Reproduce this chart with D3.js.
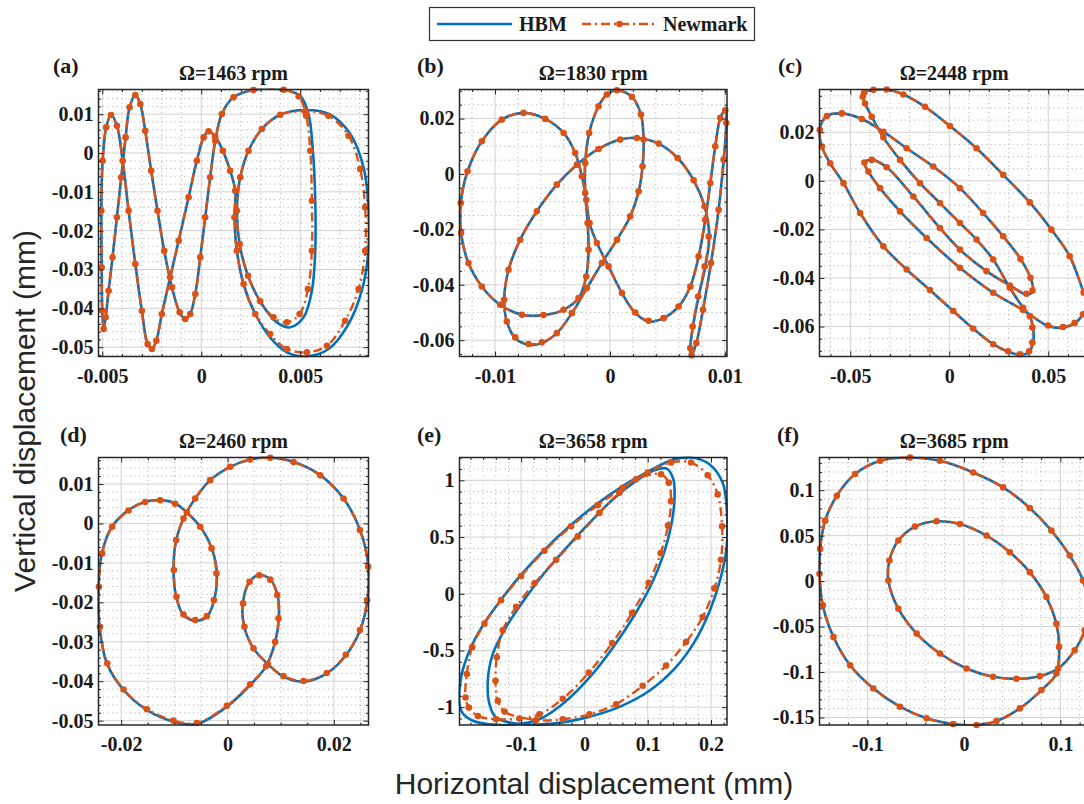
<!DOCTYPE html>
<html><head><meta charset="utf-8">
<script src="https://cdn.jsdelivr.net/npm/d3@7"></script>
<style>body{margin:0;background:#fff}svg{display:block}</style>
</head><body>
<svg id="chart" width="1084" height="804"></svg>
<script>
// ---------------- DATA ----------------
const legendLabels = ["HBM", "Newmark"];
const panelLabels = ["(a)", "(b)", "(c)", "(d)", "(e)", "(f)"];
const speeds = [1463, 1830, 2448, 2460, 3658, 3685];
const xAxisTitle = "Horizontal displacement (mm)";
const yAxisTitle = "Vertical displacement (mm)";

const xLimA = [-0.00519, 0.00845], yLimA = [-0.0524, 0.01636];
const xLimB = [-0.01309, 0.01019], yLimB = [-0.0659, 0.0305];
const xLimC = [-0.06555, 0.07059], yLimC = [-0.07234, 0.03761];
const xLimD = [-0.02427, 0.02652], yLimD = [-0.0511, 0.01672];
const xLimE = [-0.19737, 0.22526], yLimE = [-1.1568, 1.2012];
const xLimF = [-0.14966, 0.12966], yLimF = [-0.15826, 0.13596];

const xTicksA = [-0.005, 0, 0.005], yTicksA = [-0.05, -0.04, -0.03, -0.02, -0.01, 0, 0.01];
const xTicksB = [-0.01, 0, 0.01], yTicksB = [-0.06, -0.04, -0.02, 0, 0.02];
const xTicksC = [-0.05, 0, 0.05], yTicksC = [-0.06, -0.04, -0.02, 0, 0.02];
const xTicksD = [-0.02, 0, 0.02], yTicksD = [-0.05, -0.04, -0.03, -0.02, -0.01, 0, 0.01];
const xTicksE = [-0.1, 0, 0.1, 0.2], yTicksE = [-1, -0.5, 0, 0.5, 1];
const xTicksF = [-0.1, 0, 0.1], yTicksF = [-0.15, -0.1, -0.05, 0, 0.05, 0.1];
const minorStepsX = [0.001, 0.002, 0.01, 0.005, 0.02, 0.02];
const minorStepsY = [0.002, 0.005, 0.005, 0.002, 0.1, 0.01];

const hbmA = [[-0.00493,-0.04532],[-0.00483,-0.04232],[-0.00468,-0.03545],[-0.00448,-0.02687],[-0.00426,-0.01657],[-0.00404,-0.00627],[-0.00382,0.00403],[-0.00362,0.01176],[-0.00333,0.01494],[-0.00308,0.01262],[-0.00283,0.00575],[-0.00253,-0.00455],[-0.00221,-0.01485],[-0.00187,-0.02515],[-0.00148,-0.03459],[-0.00109,-0.04103],[-0.00081,-0.04275],[-0.00056,-0.04146],[-0.00030,-0.03631],[-0.00005,-0.02687],[0.00020,-0.01657],[0.00045,-0.00627],[0.00071,0.00318],[0.00104,0.01004],[0.00163,0.01434],[0.00264,0.01622],[0.00416,0.01631],[0.00500,0.01476],[0.00542,0.01004],[0.00564,0.00060],[0.00576,-0.01228],[0.00576,-0.02515],[0.00559,-0.03545],[0.00517,-0.04232],[0.00450,-0.04489],[0.00382,-0.04361],[0.00306,-0.03889],[0.00239,-0.03202],[0.00194,-0.02343],[0.00180,-0.01485],[0.00197,-0.00627],[0.00239,0.00060],[0.00306,0.00618],[0.00399,0.00987],[0.00534,0.01107],[0.00652,0.00987],[0.00753,0.00489],[0.00820,-0.00369],[0.00845,-0.01399],[0.00845,-0.02515],[0.00811,-0.03545],[0.00744,-0.04404],[0.00643,-0.05047],[0.00534,-0.05236],[0.00433,-0.05133],[0.00348,-0.04747],[0.00273,-0.04146],[0.00214,-0.03374],[0.00180,-0.02515],[0.00168,-0.01657],[0.00172,-0.00970],[0.00146,-0.00455],[0.00109,0.00060],[0.00071,0.00421],[0.00037,0.00558],[0.00012,0.00403],[-0.00022,-0.00197],[-0.00064,-0.01142],[-0.00114,-0.02258],[-0.00157,-0.03202],[-0.00199,-0.04146],[-0.00227,-0.04833],[-0.00249,-0.05047],[-0.00271,-0.04919],[-0.00300,-0.04060],[-0.00333,-0.02858],[-0.00367,-0.01485],[-0.00397,-0.00197],[-0.00426,0.00704],[-0.00456,0.00979],[-0.00480,0.00661],[-0.00498,-0.00197],[-0.00505,-0.01485],[-0.00503,-0.02944],[-0.00500,-0.04060]];
const newmarkA = [[-0.00493,-0.04532],[-0.00483,-0.04232],[-0.00468,-0.03545],[-0.00448,-0.02687],[-0.00426,-0.01657],[-0.00404,-0.00627],[-0.00382,0.00403],[-0.00362,0.01176],[-0.00333,0.01494],[-0.00308,0.01262],[-0.00283,0.00575],[-0.00253,-0.00455],[-0.00221,-0.01485],[-0.00187,-0.02515],[-0.00148,-0.03459],[-0.00109,-0.04103],[-0.00081,-0.04275],[-0.00056,-0.04146],[-0.00030,-0.03631],[-0.00005,-0.02687],[0.00020,-0.01657],[0.00045,-0.00627],[0.00071,0.00318],[0.00104,0.01004],[0.00163,0.01434],[0.00264,0.01622],[0.00416,0.01631],[0.00492,0.01459],[0.00530,0.00961],[0.00551,0.00060],[0.00559,-0.01228],[0.00559,-0.02515],[0.00539,-0.03502],[0.00497,-0.04146],[0.00433,-0.04361],[0.00365,-0.04232],[0.00298,-0.03820],[0.00236,-0.03159],[0.00194,-0.02343],[0.00180,-0.01485],[0.00197,-0.00627],[0.00239,0.00060],[0.00306,0.00618],[0.00399,0.00987],[0.00525,0.01073],[0.00643,0.00961],[0.00744,0.00446],[0.00803,-0.00412],[0.00828,-0.01399],[0.00828,-0.02515],[0.00795,-0.03502],[0.00727,-0.04318],[0.00635,-0.04962],[0.00534,-0.05133],[0.00433,-0.05047],[0.00348,-0.04661],[0.00273,-0.04146],[0.00214,-0.03374],[0.00180,-0.02515],[0.00168,-0.01657],[0.00172,-0.00970],[0.00146,-0.00455],[0.00109,0.00060],[0.00071,0.00421],[0.00037,0.00558],[0.00012,0.00403],[-0.00022,-0.00197],[-0.00064,-0.01142],[-0.00114,-0.02258],[-0.00157,-0.03202],[-0.00199,-0.04146],[-0.00227,-0.04833],[-0.00249,-0.05047],[-0.00271,-0.04919],[-0.00300,-0.04060],[-0.00333,-0.02858],[-0.00367,-0.01485],[-0.00397,-0.00197],[-0.00426,0.00704],[-0.00456,0.00979],[-0.00480,0.00661],[-0.00498,-0.00197],[-0.00505,-0.01485],[-0.00503,-0.02944],[-0.00500,-0.04060]];

const hbmB = [[0.00061,0.03024],[0.00192,0.02783],[0.00270,0.02145],[0.00293,0.01241],[0.00284,0.00277],[0.00250,-0.00627],[0.00177,-0.01530],[0.00061,-0.02373],[-0.00070,-0.03217],[-0.00200,-0.04120],[-0.00331,-0.05024],[-0.00462,-0.05747],[-0.00592,-0.06108],[-0.00708,-0.06169],[-0.00824,-0.05928],[-0.00897,-0.05325],[-0.00920,-0.04542],[-0.00882,-0.03458],[-0.00781,-0.02373],[-0.00636,-0.01349],[-0.00462,-0.00386],[-0.00287,0.00337],[-0.00099,0.00904],[0.00090,0.01241],[0.00235,0.01301],[0.00424,0.01096],[0.00589,0.00578],[0.00729,-0.00229],[0.00824,-0.01169],[0.00865,-0.02253],[0.00830,-0.03337],[0.00772,-0.04422],[0.00723,-0.05506],[0.00700,-0.06289],[0.00711,-0.06542],[0.00752,-0.06108],[0.00810,-0.04904],[0.00880,-0.03217],[0.00946,-0.01289],[0.00990,0.00518],[0.01013,0.01843],[0.01004,0.02301],[0.00961,0.02024],[0.00917,0.01000],[0.00874,-0.00325],[0.00830,-0.01651],[0.00772,-0.02976],[0.00700,-0.04060],[0.00598,-0.04783],[0.00467,-0.05205],[0.00337,-0.05325],[0.00221,-0.05024],[0.00105,-0.04301],[-0.00012,-0.03337],[-0.00113,-0.02494],[-0.00177,-0.01771],[-0.00206,-0.00928],[-0.00244,-0.00084],[-0.00302,0.00759],[-0.00403,0.01482],[-0.00563,0.01988],[-0.00752,0.02205],[-0.00940,0.01964],[-0.01115,0.01181],[-0.01239,0.00096],[-0.01298,-0.01048],[-0.01295,-0.02133],[-0.01231,-0.03217],[-0.01115,-0.04060],[-0.00955,-0.04723],[-0.00766,-0.05084],[-0.00578,-0.05096],[-0.00403,-0.04904],[-0.00273,-0.04482],[-0.00206,-0.03699],[-0.00186,-0.02735],[-0.00194,-0.01771],[-0.00215,-0.00687],[-0.00215,0.00398],[-0.00180,0.01482],[-0.00099,0.02446],[-0.00026,0.02867]];
const newmarkB = [[0.00061,0.03024],[0.00192,0.02783],[0.00270,0.02145],[0.00293,0.01241],[0.00284,0.00277],[0.00250,-0.00627],[0.00177,-0.01530],[0.00061,-0.02373],[-0.00070,-0.03217],[-0.00200,-0.04120],[-0.00331,-0.05024],[-0.00462,-0.05747],[-0.00592,-0.06080],[-0.00708,-0.06140],[-0.00824,-0.05900],[-0.00897,-0.05325],[-0.00920,-0.04542],[-0.00882,-0.03458],[-0.00781,-0.02373],[-0.00636,-0.01349],[-0.00462,-0.00386],[-0.00287,0.00337],[-0.00099,0.00904],[0.00090,0.01241],[0.00235,0.01301],[0.00424,0.01096],[0.00589,0.00578],[0.00729,-0.00229],[0.00824,-0.01169],[0.00860,-0.02253],[0.00825,-0.03337],[0.00768,-0.04422],[0.00720,-0.05506],[0.00700,-0.06289],[0.00711,-0.06542],[0.00752,-0.06108],[0.00810,-0.04904],[0.00880,-0.03217],[0.00946,-0.01289],[0.00990,0.00518],[0.01013,0.01843],[0.01004,0.02301],[0.00961,0.02024],[0.00917,0.01000],[0.00874,-0.00325],[0.00830,-0.01651],[0.00772,-0.02976],[0.00700,-0.04060],[0.00598,-0.04783],[0.00467,-0.05205],[0.00337,-0.05300],[0.00221,-0.05000],[0.00105,-0.04301],[-0.00012,-0.03337],[-0.00113,-0.02494],[-0.00177,-0.01771],[-0.00206,-0.00928],[-0.00244,-0.00084],[-0.00302,0.00759],[-0.00403,0.01482],[-0.00563,0.01988],[-0.00752,0.02205],[-0.00940,0.01964],[-0.01115,0.01181],[-0.01239,0.00096],[-0.01298,-0.01048],[-0.01295,-0.02133],[-0.01231,-0.03217],[-0.01115,-0.04060],[-0.00955,-0.04723],[-0.00766,-0.05084],[-0.00578,-0.05096],[-0.00403,-0.04904],[-0.00273,-0.04482],[-0.00206,-0.03699],[-0.00186,-0.02735],[-0.00194,-0.01771],[-0.00215,-0.00687],[-0.00215,0.00398],[-0.00180,0.01482],[-0.00099,0.02446],[-0.00026,0.02867]];

const hbmC = [[-0.04303,0.03624],[-0.03832,0.03747],[-0.03160,0.03761],[-0.02319,0.03556],[-0.01227,0.03050],[0.00034,0.02256],[0.01378,0.01340],[0.02723,0.00246],[0.04067,-0.00889],[0.05160,-0.02010],[0.06084,-0.03104],[0.06790,-0.04608],[0.07008,-0.05087],[0.06756,-0.05497],[0.06336,-0.05867],[0.05748,-0.06044],[0.04992,-0.05976],[0.03731,-0.05320],[0.02219,-0.04608],[0.00538,-0.03583],[-0.01143,-0.02352],[-0.02487,-0.01258],[-0.03496,-0.00301],[-0.04084,0.00383],[-0.04286,0.00752],[-0.03916,0.00862],[-0.03160,0.00561],[-0.01815,-0.00643],[-0.00471,-0.01942],[0.00538,-0.02831],[0.01882,-0.03720],[0.03059,-0.04308],[0.03899,-0.04677],[0.04235,-0.04540],[0.04101,-0.03993],[0.03597,-0.03214],[0.02723,-0.02284],[0.01714,-0.01326],[0.00538,-0.00301],[-0.00807,0.00588],[-0.02151,0.01340],[-0.03328,0.02024],[-0.04420,0.02544],[-0.05429,0.02776],[-0.06185,0.02667],[-0.06555,0.02092],[-0.06437,0.01409],[-0.06017,0.00725],[-0.05345,-0.00096],[-0.04504,-0.01326],[-0.03328,-0.02694],[-0.02151,-0.03651],[-0.00975,-0.04499],[0.00202,-0.05361],[0.01210,-0.06085],[0.02219,-0.06728],[0.02975,-0.07043],[0.03563,-0.07166],[0.04034,-0.07043],[0.04235,-0.06660],[0.04235,-0.06044],[0.04067,-0.05566],[0.03731,-0.05224],[0.03059,-0.04403],[0.02219,-0.03241],[0.01378,-0.02420],[0.00538,-0.01737],[-0.00471,-0.00916],[-0.01479,-0.00096],[-0.02487,0.00862],[-0.03328,0.01791],[-0.03916,0.02639],[-0.04252,0.03186],[-0.04370,0.03460]];
const newmarkC = [[-0.04303,0.03624],[-0.03832,0.03747],[-0.03160,0.03761],[-0.02319,0.03556],[-0.01227,0.03050],[0.00034,0.02256],[0.01378,0.01340],[0.02723,0.00246],[0.04067,-0.00889],[0.05160,-0.02010],[0.06084,-0.03104],[0.06790,-0.04608],[0.07000,-0.05087],[0.06756,-0.05497],[0.06336,-0.05850],[0.05748,-0.06020],[0.04992,-0.05960],[0.03731,-0.05320],[0.02219,-0.04608],[0.00538,-0.03583],[-0.01143,-0.02352],[-0.02487,-0.01258],[-0.03496,-0.00301],[-0.04084,0.00383],[-0.04286,0.00752],[-0.03916,0.00862],[-0.03160,0.00561],[-0.01815,-0.00643],[-0.00471,-0.01942],[0.00538,-0.02831],[0.01882,-0.03720],[0.03059,-0.04308],[0.03899,-0.04650],[0.04200,-0.04520],[0.04101,-0.03993],[0.03597,-0.03214],[0.02723,-0.02284],[0.01714,-0.01326],[0.00538,-0.00301],[-0.00807,0.00588],[-0.02151,0.01340],[-0.03328,0.02024],[-0.04420,0.02544],[-0.05429,0.02776],[-0.06185,0.02667],[-0.06540,0.02092],[-0.06437,0.01409],[-0.06017,0.00725],[-0.05345,-0.00096],[-0.04504,-0.01326],[-0.03328,-0.02694],[-0.02151,-0.03651],[-0.00975,-0.04499],[0.00202,-0.05361],[0.01210,-0.06085],[0.02219,-0.06728],[0.02975,-0.07020],[0.03563,-0.07140],[0.04034,-0.07020],[0.04200,-0.06660],[0.04200,-0.06044],[0.04067,-0.05566],[0.03731,-0.05224],[0.03059,-0.04403],[0.02219,-0.03241],[0.01378,-0.02420],[0.00538,-0.01737],[-0.00471,-0.00916],[-0.01479,-0.00096],[-0.02487,0.00862],[-0.03328,0.01791],[-0.03916,0.02639],[-0.04252,0.03186],[-0.04370,0.03460]];

const hbmD = [[-0.02427,-0.01605],[-0.02364,-0.00760],[-0.02176,-0.00084],[-0.01862,0.00338],[-0.01549,0.00549],[-0.01267,0.00591],[-0.00984,0.00507],[-0.00765,0.00279],[-0.00514,-0.00084],[-0.00295,-0.00633],[-0.00201,-0.01267],[-0.00251,-0.01943],[-0.00389,-0.02365],[-0.00608,-0.02466],[-0.00828,-0.02323],[-0.00966,-0.01858],[-0.01016,-0.01182],[-0.00966,-0.00422],[-0.00828,0.00127],[-0.00608,0.00633],[-0.00326,0.01098],[0.00050,0.01436],[0.00426,0.01622],[0.00803,0.01672],[0.01241,0.01563],[0.01743,0.01225],[0.02182,0.00633],[0.02495,-0.00169],[0.02652,-0.01098],[0.02633,-0.01943],[0.02495,-0.02703],[0.02232,-0.03336],[0.01868,-0.03801],[0.01430,-0.04012],[0.01053,-0.03885],[0.00759,-0.03564],[0.00489,-0.03167],[0.00314,-0.02618],[0.00288,-0.02027],[0.00414,-0.01478],[0.00596,-0.01309],[0.00803,-0.01419],[0.00941,-0.01816],[0.00966,-0.02407],[0.00897,-0.02998],[0.00727,-0.03615],[0.00426,-0.04096],[-0.00013,-0.04645],[-0.00577,-0.05085],[-0.01016,-0.05025],[-0.01517,-0.04730],[-0.01956,-0.04223],[-0.02270,-0.03547],[-0.02408,-0.02618]];
const newmarkD = [[-0.02420,-0.01605],[-0.02358,-0.00760],[-0.02170,-0.00084],[-0.01862,0.00330],[-0.01549,0.00545],[-0.01267,0.00585],[-0.00984,0.00500],[-0.00765,0.00279],[-0.00514,-0.00084],[-0.00300,-0.00633],[-0.00208,-0.01267],[-0.00256,-0.01943],[-0.00389,-0.02350],[-0.00608,-0.02450],[-0.00828,-0.02310],[-0.00960,-0.01858],[-0.01010,-0.01182],[-0.00966,-0.00422],[-0.00828,0.00127],[-0.00608,0.00633],[-0.00326,0.01098],[0.00050,0.01436],[0.00426,0.01622],[0.00803,0.01665],[0.01241,0.01555],[0.01743,0.01220],[0.02182,0.00633],[0.02490,-0.00169],[0.02645,-0.01098],[0.02625,-0.01943],[0.02490,-0.02703],[0.02225,-0.03330],[0.01868,-0.03790],[0.01430,-0.03995],[0.01053,-0.03870],[0.00759,-0.03564],[0.00489,-0.03167],[0.00318,-0.02618],[0.00292,-0.02027],[0.00414,-0.01478],[0.00596,-0.01315],[0.00803,-0.01425],[0.00935,-0.01816],[0.00960,-0.02407],[0.00897,-0.02998],[0.00727,-0.03615],[0.00426,-0.04080],[-0.00013,-0.04625],[-0.00577,-0.05060],[-0.01016,-0.05000],[-0.01517,-0.04710],[-0.01956,-0.04210],[-0.02262,-0.03547],[-0.02400,-0.02618]];

const hbmE = [[-0.19737,-0.97337],[-0.19474,-0.73669],[-0.18158,-0.50000],[-0.16053,-0.27811],[-0.13421,-0.07101],[-0.10263,0.15089],[-0.06579,0.37278],[-0.02368,0.59467],[0.01842,0.78698],[0.06053,0.94970],[0.10263,1.08284],[0.13947,1.18047],[0.16842,1.20118],[0.19737,1.14201],[0.21842,0.97929],[0.22526,0.71302],[0.22474,0.41716],[0.21579,0.15089],[0.19842,-0.14497],[0.17368,-0.42604],[0.14211,-0.66272],[0.10263,-0.85503],[0.05526,-0.99704],[0.00263,-1.09172],[-0.05000,-1.14497],[-0.09737,-1.15089],[-0.13947,-1.09172],[-0.15000,-0.97337],[-0.15263,-0.76627],[-0.14474,-0.52959],[-0.12368,-0.29290],[-0.09737,-0.07101],[-0.06579,0.16568],[-0.02895,0.40237],[0.00789,0.62426],[0.04474,0.83136],[0.08158,0.99408],[0.11053,1.08876],[0.13000,1.10355],[0.14053,1.00888],[0.14211,0.81657],[0.13684,0.59467],[0.12474,0.34320],[0.10526,0.07692],[0.07895,-0.18935],[0.04737,-0.45562],[0.01053,-0.72189],[-0.03158,-0.95858],[-0.07105,-1.10651],[-0.10789,-1.15089],[-0.15000,-1.15089],[-0.17895,-1.11243],[-0.19211,-1.05621]];
const newmarkE = [[-0.18789,-0.91420],[-0.18579,-0.70710],[-0.17737,-0.47041],[-0.15789,-0.26331],[-0.13158,-0.05621],[-0.10000,0.15680],[-0.06316,0.37870],[-0.02105,0.59467],[0.02105,0.78107],[0.06053,0.93491],[0.10000,1.06805],[0.13684,1.15680],[0.16842,1.15680],[0.19474,1.04438],[0.21053,0.87574],[0.21737,0.59467],[0.21579,0.29882],[0.20526,0.04734],[0.18684,-0.20414],[0.16053,-0.42604],[0.12895,-0.63314],[0.09211,-0.81065],[0.05000,-0.97337],[0.00789,-1.06213],[-0.03421,-1.10651],[-0.07632,-1.11243],[-0.12632,-1.03846],[-0.13684,-0.94379],[-0.14053,-0.76627],[-0.13842,-0.55917],[-0.12895,-0.32249],[-0.10789,-0.11538],[-0.07895,0.09172],[-0.04474,0.29882],[-0.01053,0.50592],[0.02368,0.71302],[0.05526,0.89053],[0.08158,1.00888],[0.12105,1.05325],[0.13316,0.97929],[0.13684,0.81657],[0.13211,0.60059],[0.12053,0.35799],[0.10158,0.09763],[0.07526,-0.16864],[0.04368,-0.43491],[0.00684,-0.69527],[-0.03421,-0.92604],[-0.07105,-1.06213],[-0.10263,-1.10059],[-0.13947,-1.10651],[-0.16842,-1.07692],[-0.18263,-1.00296]];

const hbmF = [[-0.05586,0.13596],[-0.02483,0.13231],[0.00966,0.11952],[0.04069,0.10307],[0.06828,0.08041],[0.09069,0.05556],[0.10966,0.02814],[0.12345,0.00073],[0.12862,-0.02851],[0.12517,-0.05409],[0.11483,-0.07602],[0.09759,-0.09613],[0.07862,-0.10453],[0.05448,-0.10746],[0.03034,-0.10526],[0.00276,-0.09613],[-0.02483,-0.07968],[-0.04897,-0.05775],[-0.06793,-0.03034],[-0.07828,0.00073],[-0.07724,0.02266],[-0.06793,0.04459],[-0.05069,0.05994],[-0.02828,0.06579],[-0.00414,0.06287],[0.02345,0.05007],[0.04759,0.03180],[0.06828,0.00987],[0.08552,-0.01754],[0.09586,-0.04678],[0.09862,-0.07237],[0.09586,-0.10161],[0.08034,-0.11988],[0.05793,-0.13999],[0.03379,-0.15387],[0.01310,-0.15826],[-0.01103,-0.15716],[-0.03862,-0.15095],[-0.06621,-0.13816],[-0.09379,-0.11806],[-0.11793,-0.09247],[-0.13517,-0.06140],[-0.14621,-0.02668],[-0.14966,0.00804],[-0.14897,0.03545],[-0.14379,0.06652],[-0.13172,0.09393],[-0.11276,0.11769],[-0.08690,0.13231]];
const newmarkF = [[-0.05586,0.13596],[-0.02483,0.13231],[0.00966,0.11952],[0.04069,0.10307],[0.06828,0.08041],[0.09069,0.05556],[0.10966,0.02814],[0.12345,0.00073],[0.12862,-0.02851],[0.12517,-0.05409],[0.11483,-0.07602],[0.09759,-0.09613],[0.07862,-0.10453],[0.05448,-0.10746],[0.03034,-0.10526],[0.00276,-0.09613],[-0.02483,-0.07968],[-0.04897,-0.05775],[-0.06793,-0.03034],[-0.07828,0.00073],[-0.07724,0.02266],[-0.06793,0.04459],[-0.05069,0.05994],[-0.02828,0.06579],[-0.00414,0.06287],[0.02345,0.05007],[0.04759,0.03180],[0.06828,0.00987],[0.08552,-0.01754],[0.09586,-0.04678],[0.09862,-0.07237],[0.09586,-0.10161],[0.08034,-0.11988],[0.05793,-0.13999],[0.03379,-0.15387],[0.01310,-0.15826],[-0.01103,-0.15716],[-0.03862,-0.15095],[-0.06621,-0.13816],[-0.09379,-0.11806],[-0.11793,-0.09247],[-0.13517,-0.06140],[-0.14621,-0.02668],[-0.14966,0.00804],[-0.14897,0.03545],[-0.14379,0.06652],[-0.13172,0.09393],[-0.11276,0.11769],[-0.08690,0.13231]];

// ---------------- LAYOUT ----------------
const svg = d3.select("#chart");
const SERIF = '"Liberation Serif","Times New Roman",Times,serif';
const SANS = '"Liberation Sans",Arial,Helvetica,sans-serif';
const BLUE = "#0072BD", ORANGE = "#D95319", AXC = "#262626";
const boxes = [[98.5,368.5,89.5,356.5],[459.5,727,89.5,356.5],[819.5,1089,89.5,356.5],
               [98.5,368.5,457.5,725],[459.5,727,457.5,725],[819.5,1089,457.5,725]];
const labelPos = [[53,73],[417,73],[778,73],[60,442],[417,442],[777,442]];

const panels = [
  {xLim:xLimA,yLim:yLimA,xTicks:xTicksA,yTicks:yTicksA,hbm:hbmA,nm:newmarkA},
  {xLim:xLimB,yLim:yLimB,xTicks:xTicksB,yTicks:yTicksB,hbm:hbmB,nm:newmarkB},
  {xLim:xLimC,yLim:yLimC,xTicks:xTicksC,yTicks:yTicksC,hbm:hbmC,nm:newmarkC},
  {xLim:xLimD,yLim:yLimD,xTicks:xTicksD,yTicks:yTicksD,hbm:hbmD,nm:newmarkD},
  {xLim:xLimE,yLim:yLimE,xTicks:xTicksE,yTicks:yTicksE,hbm:hbmE,nm:newmarkE},
  {xLim:xLimF,yLim:yLimF,xTicks:xTicksF,yTicks:yTicksF,hbm:hbmF,nm:newmarkF}
];

function minorVals(lim, step, majors) {
  const out = [];
  const k0 = Math.ceil(lim[0]/step - 1e-9), k1 = Math.floor(lim[1]/step + 1e-9);
  for (let k = k0; k <= k1; k++) {
    const v = +(k*step).toFixed(10);
    if (!majors.some(m => Math.abs(m - v) < step*1e-3)) out.push(v);
  }
  return out;
}
const fmt = v => Math.abs(v) < 1e-12 ? "0" : String(+v.toPrecision(6));
const defs = svg.append("defs");

panels.forEach((p, i) => {
  const [L, R, T, B] = boxes[i];
  const x = d3.scaleLinear().domain(p.xLim).range([L, R]);
  const y = d3.scaleLinear().domain(p.yLim).range([B, T]);
  const g = svg.append("g");
  const xm = minorVals(p.xLim, minorStepsX[i], p.xTicks);
  const ym = minorVals(p.yLim, minorStepsY[i], p.yTicks);

  g.append("g").selectAll("line").data(xm).join("line")
    .attr("x1", d => x(d)).attr("x2", d => x(d)).attr("y1", T).attr("y2", B)
    .attr("stroke", "#9a9a9a").attr("stroke-width", 0.8).attr("stroke-dasharray", "1,3.5");
  g.append("g").selectAll("line").data(ym).join("line")
    .attr("y1", d => y(d)).attr("y2", d => y(d)).attr("x1", L).attr("x2", R)
    .attr("stroke", "#9a9a9a").attr("stroke-width", 0.8).attr("stroke-dasharray", "1,3.5");
  g.append("g").selectAll("line").data(p.xTicks).join("line")
    .attr("x1", d => x(d)).attr("x2", d => x(d)).attr("y1", T).attr("y2", B)
    .attr("stroke", "#d2d2d2").attr("stroke-width", 1);
  g.append("g").selectAll("line").data(p.yTicks).join("line")
    .attr("y1", d => y(d)).attr("y2", d => y(d)).attr("x1", L).attr("x2", R)
    .attr("stroke", "#d2d2d2").attr("stroke-width", 1);

  const cid = "clip" + i;
  defs.append("clipPath").attr("id", cid).append("rect")
    .attr("x", L - 1).attr("y", T - 1).attr("width", R - L + 2).attr("height", B - T + 2);

  const line = d3.line().x(d => x(d[0])).y(d => y(d[1])).curve(d3.curveCatmullRomClosed.alpha(0.5));
  g.append("path").attr("d", line(p.hbm)).attr("fill", "none").attr("stroke", BLUE)
    .attr("stroke-width", 2.6).attr("clip-path", `url(#${cid})`);
  g.append("path").attr("d", line(p.nm)).attr("fill", "none").attr("stroke", ORANGE)
    .attr("stroke-width", 2.4).attr("stroke-dasharray", "9,4,2,4").attr("clip-path", `url(#${cid})`);
  g.append("g").selectAll("circle").data(p.nm).join("circle")
    .attr("cx", d => x(d[0])).attr("cy", d => y(d[1])).attr("r", 3.3).attr("fill", ORANGE);

  const styleAxis = sel => {
    sel.select(".domain").remove();
    sel.selectAll(".tick line").attr("stroke", AXC).attr("stroke-width", 1);
    sel.selectAll("text").attr("font-family", SERIF).attr("font-weight", "bold")
      .attr("font-size", 20).attr("fill", "#1a1a1a");
  };
  g.append("g").attr("transform", `translate(0,${B})`)
    .call(d3.axisBottom(x).tickValues(p.xTicks).tickFormat(fmt).tickSizeInner(-5).tickSizeOuter(0).tickPadding(12)).call(styleAxis);
  g.append("g").attr("transform", `translate(${L},0)`)
    .call(d3.axisLeft(y).tickValues(p.yTicks).tickFormat(fmt).tickSizeInner(-5).tickSizeOuter(0).tickPadding(5)).call(styleAxis);
  g.append("g").attr("transform", `translate(0,${T})`)
    .call(d3.axisTop(x).tickValues(p.xTicks).tickFormat("").tickSizeInner(-5).tickSizeOuter(0)).call(styleAxis);
  g.append("g").attr("transform", `translate(${R},0)`)
    .call(d3.axisRight(y).tickValues(p.yTicks).tickFormat("").tickSizeInner(-5).tickSizeOuter(0)).call(styleAxis);
  g.append("g").attr("transform", `translate(0,${B})`)
    .call(d3.axisBottom(x).tickValues(xm).tickFormat("").tickSizeInner(-2.5).tickSizeOuter(0)).call(styleAxis);
  g.append("g").attr("transform", `translate(0,${T})`)
    .call(d3.axisTop(x).tickValues(xm).tickFormat("").tickSizeInner(-2.5).tickSizeOuter(0)).call(styleAxis);
  g.append("g").attr("transform", `translate(${L},0)`)
    .call(d3.axisLeft(y).tickValues(ym).tickFormat("").tickSizeInner(-2.5).tickSizeOuter(0)).call(styleAxis);
  g.append("g").attr("transform", `translate(${R},0)`)
    .call(d3.axisRight(y).tickValues(ym).tickFormat("").tickSizeInner(-2.5).tickSizeOuter(0)).call(styleAxis);

  g.append("rect").attr("x", L).attr("y", T).attr("width", R - L).attr("height", B - T)
    .attr("fill", "none").attr("stroke", AXC).attr("stroke-width", 1.5);

  g.append("text").attr("x", (L + R) / 2).attr("y", T - 9.5).attr("text-anchor", "middle")
    .attr("font-family", SERIF).attr("font-weight", "bold").attr("font-size", 20).attr("fill", "#1a1a1a")
    .text(`Ω=${speeds[i]} rpm`);
  g.append("text").attr("x", labelPos[i][0]).attr("y", labelPos[i][1])
    .attr("font-family", SERIF).attr("font-weight", "bold").attr("font-size", 22).attr("fill", "#1a1a1a")
    .text(panelLabels[i]);
});

svg.append("text").attr("x", 594).attr("y", 794).attr("text-anchor", "middle")
  .attr("font-family", SANS).attr("font-size", 30).attr("fill", "#262626").text(xAxisTitle);
svg.append("text").attr("transform", "translate(35,411) rotate(-90)").attr("text-anchor", "middle")
  .attr("font-family", SANS).attr("font-size", 30).attr("fill", "#262626").text(yAxisTitle);

const lg = svg.append("g");
lg.append("rect").attr("x", 429.5).attr("y", 7.5).attr("width", 325).attr("height", 33)
  .attr("fill", "#fff").attr("stroke", "#333").attr("stroke-width", 1.2);
lg.append("line").attr("x1", 437).attr("x2", 512).attr("y1", 24).attr("y2", 24)
  .attr("stroke", BLUE).attr("stroke-width", 2.6);
lg.append("text").attr("x", 519).attr("y", 31).attr("font-family", SERIF).attr("font-weight", "bold")
  .attr("font-size", 20).attr("fill", "#1a1a1a").text(legendLabels[0]);
lg.append("line").attr("x1", 582).attr("x2", 657).attr("y1", 24).attr("y2", 24)
  .attr("stroke", ORANGE).attr("stroke-width", 2.4).attr("stroke-dasharray", "9,4,2,4");
lg.append("circle").attr("cx", 619.5).attr("cy", 24).attr("r", 3.3).attr("fill", ORANGE);
lg.append("text").attr("x", 663).attr("y", 31).attr("font-family", SERIF).attr("font-weight", "bold")
  .attr("font-size", 20).attr("fill", "#1a1a1a").text(legendLabels[1]);
</script>
</body></html>
